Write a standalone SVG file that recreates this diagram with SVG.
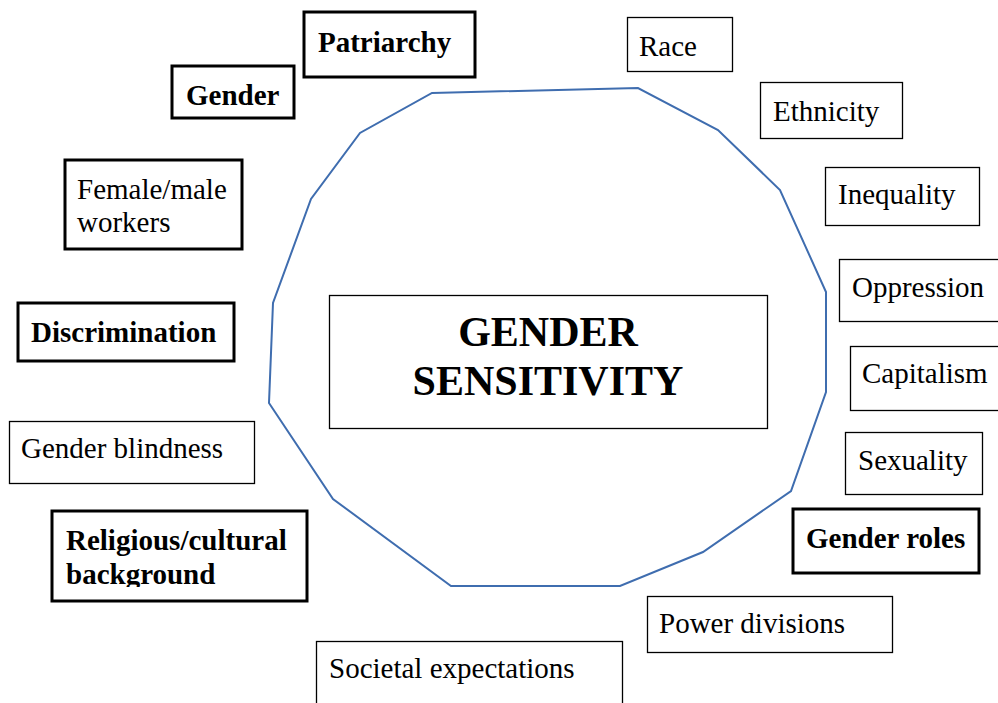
<svg xmlns="http://www.w3.org/2000/svg" width="998" height="703" viewBox="0 0 998 703">
<style>
.thin{fill:#fff;stroke:#000;stroke-width:1.3}
.thick{fill:#fff;stroke:#000;stroke-width:3}
.t{font-family:"Liberation Serif","Times New Roman",serif;font-size:29px;fill:#000}
.b{font-weight:bold}
.title{font-family:"Liberation Serif","Times New Roman",serif;font-size:42px;font-weight:bold;fill:#000;text-anchor:middle}
</style>
<defs>
<clipPath id="relclip"><rect x="51" y="510" width="257" height="77"/></clipPath>
</defs>
<rect width="998" height="703" fill="#fff"/>
<g id="connectors">
<polygon points="432,93 638,88 718,130 780,190 826,292 826,392 791,491 703,552 620,586 451,586 333,499 269,403 273,303 311,199 360,133" fill="none" stroke="#3F6DAF" stroke-width="2"/>
</g>
<g id="center">
<rect class="thin" x="329.5" y="295.5" width="438" height="133"/>
<text class="title" x="548" y="345.5">GENDER</text>
<text class="title" x="548" y="395">SENSITIVITY</text>
</g>
<g id="patriarchy">
<rect class="thick" x="304" y="12" width="171" height="65"/>
<text class="t b" x="318" y="52">Patriarchy</text>
</g>
<g id="gender">
<rect class="thick" x="172" y="66" width="122" height="52"/>
<text class="t b" x="186" y="105">Gender</text>
</g>
<g id="female-male">
<rect class="thick" x="65" y="160" width="177" height="89"/>
<text class="t" x="77" y="199">Female/male</text>
<text class="t" x="77" y="232">workers</text>
</g>
<g id="discrimination">
<rect class="thick" x="18" y="303" width="216" height="58"/>
<text class="t b" x="31" y="342">Discrimination</text>
</g>
<g id="gender-blindness">
<rect class="thin" x="9.5" y="421.5" width="245" height="62"/>
<text class="t" x="21" y="458">Gender blindness</text>
</g>
<g id="religious">
<rect class="thick" x="52" y="511" width="255" height="90"/>
<g clip-path="url(#relclip)">
<text class="t b" x="66" y="550">Religious/cultural</text>
<text class="t b" x="66" y="584">background</text>
</g>
</g>
<g id="societal">
<rect class="thin" x="316.5" y="641.5" width="306" height="70"/>
<text class="t" x="329" y="678">Societal expectations</text>
</g>
<g id="power">
<rect class="thin" x="647.5" y="596.5" width="245" height="56"/>
<text class="t" x="659" y="633">Power divisions</text>
</g>
<g id="gender-roles">
<rect class="thick" x="793" y="509" width="186" height="64"/>
<text class="t b" x="806" y="548">Gender roles</text>
</g>
<g id="sexuality">
<rect class="thin" x="845.5" y="432.5" width="137" height="62"/>
<text class="t" x="858" y="470">Sexuality</text>
</g>
<g id="capitalism">
<rect class="thin" x="850.5" y="346.5" width="160" height="64"/>
<text class="t" x="862" y="383">Capitalism</text>
</g>
<g id="oppression">
<rect class="thin" x="839.5" y="259.5" width="170" height="62"/>
<text class="t" x="852" y="297">Oppression</text>
</g>
<g id="inequality">
<rect class="thin" x="825.5" y="167.5" width="154" height="58"/>
<text class="t" x="838" y="204">Inequality</text>
</g>
<g id="ethnicity">
<rect class="thin" x="760.5" y="82.5" width="142" height="56"/>
<text class="t" x="773" y="121">Ethnicity</text>
</g>
<g id="race">
<rect class="thin" x="627.5" y="17.5" width="105" height="54"/>
<text class="t" x="639" y="56">Race</text>
</g>
</svg>
